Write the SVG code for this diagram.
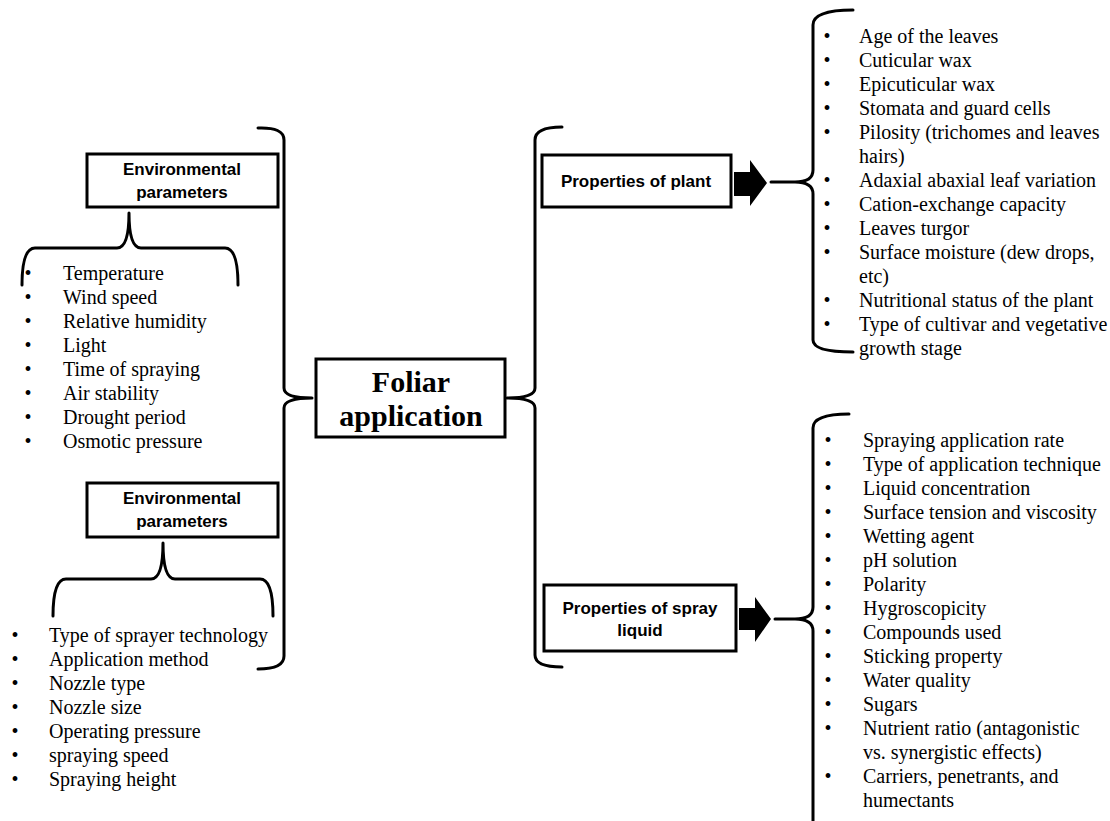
<svg xmlns="http://www.w3.org/2000/svg" width="1110" height="821" viewBox="0 0 1110 821">
<style>
.box{fill:#fff;stroke:#000;stroke-width:3}
.br{fill:none;stroke:#000;stroke-width:3;stroke-linejoin:round;stroke-linecap:round}
.hd{font-family:"Liberation Sans",Arial,sans-serif;font-weight:bold;font-size:17px;text-anchor:middle;fill:#000}
.main{font-family:"Liberation Serif","Times New Roman",serif;font-weight:bold;font-size:30px;text-anchor:middle;fill:#000}
.li{font-family:"Liberation Serif","Times New Roman",serif;font-size:20px;fill:#000}
.bu{font-family:"Liberation Serif","Times New Roman",serif;font-size:20px;text-anchor:middle;fill:#000}
</style>
<rect width="1110" height="821" fill="#fff"/>
<g id="connectors">
<path class="br" d="M258,128 Q284,127 284,140 L284,388 Q284,398 312,398 Q284,398 284,408 L284,656 Q284,669 258,669"/>
<path class="br" d="M562,127 Q535,127 535,140 L535,388 Q535,398 507,398 Q535,398 535,408 L535,655 Q535,667 562,667"/>
<path class="br" d="M22,285 Q22,248 35,248 L117,248 Q129,248 129,213 Q129,248 141,248 L225,248 Q238,248 238,285"/>
<path class="br" d="M53,616 Q53,579 66,579 L151,579 Q163,579 163,543 Q163,579 175,579 L260,579 Q273,579 273,616"/>
<path class="br" d="M853,10 Q813,10 813,25 L813,170 Q813,182 795,182 L771,182 M795,182 Q813,182 813,194 L813,340 Q813,352 853,352"/>
<path class="br" d="M849,414 Q813,414 813,428 L813,607 Q813,619 795,619 L775,619 M795,619 Q813,619 813,631 L813,824"/>
<polygon points="734,172 750,172 750,160 767,183 750,206 750,196 734,196" fill="#000"/>
<polygon points="739,608 755,608 755,597 771,619 755,642 755,630 739,630" fill="#000"/>
</g>
<g id="foliar">
<rect class="box" x="316" y="359" width="189" height="78"/>
<text class="main" x="411" y="392">Foliar</text>
<text class="main" x="411" y="426">application</text>
</g>
<g id="env1">
<rect class="box" x="87" y="154" width="191" height="53"/>
<text class="hd" x="182" y="175">Environmental</text>
<text class="hd" x="182" y="198">parameters</text>
</g>
<g id="env2">
<rect class="box" x="87" y="483" width="191" height="54"/>
<text class="hd" x="182" y="504">Environmental</text>
<text class="hd" x="182" y="527">parameters</text>
</g>
<g id="plant">
<rect class="box" x="542" y="155" width="189" height="52"/>
<text class="hd" x="636" y="187">Properties of plant</text>
</g>
<g id="spray">
<rect class="box" x="544" y="585" width="192" height="66"/>
<text class="hd" x="640" y="614">Properties of spray</text>
<text class="hd" x="640" y="636">liquid</text>
</g>
<g id="list-env1">
<text class="bu" x="28" y="280">•</text><text class="li" x="63" y="280">Temperature</text>
<text class="bu" x="28" y="304">•</text><text class="li" x="63" y="304">Wind speed</text>
<text class="bu" x="28" y="328">•</text><text class="li" x="63" y="328">Relative humidity</text>
<text class="bu" x="28" y="352">•</text><text class="li" x="63" y="352">Light</text>
<text class="bu" x="28" y="376">•</text><text class="li" x="63" y="376">Time of spraying</text>
<text class="bu" x="28" y="400">•</text><text class="li" x="63" y="400">Air stability</text>
<text class="bu" x="28" y="424">•</text><text class="li" x="63" y="424">Drought period</text>
<text class="bu" x="28" y="448">•</text><text class="li" x="63" y="448">Osmotic pressure</text>
</g>
<g id="list-env2">
<text class="bu" x="15" y="642">•</text><text class="li" x="49" y="642">Type of sprayer technology</text>
<text class="bu" x="15" y="666">•</text><text class="li" x="49" y="666">Application method</text>
<text class="bu" x="15" y="690">•</text><text class="li" x="49" y="690">Nozzle type</text>
<text class="bu" x="15" y="714">•</text><text class="li" x="49" y="714">Nozzle size</text>
<text class="bu" x="15" y="738">•</text><text class="li" x="49" y="738">Operating pressure</text>
<text class="bu" x="15" y="762">•</text><text class="li" x="49" y="762">spraying speed</text>
<text class="bu" x="15" y="786">•</text><text class="li" x="49" y="786">Spraying height</text>
</g>
<g id="list-plant">
<text class="bu" x="827" y="43">•</text><text class="li" x="859" y="43">Age of the leaves</text>
<text class="bu" x="827" y="67">•</text><text class="li" x="859" y="67">Cuticular wax</text>
<text class="bu" x="827" y="91">•</text><text class="li" x="859" y="91">Epicuticular wax</text>
<text class="bu" x="827" y="115">•</text><text class="li" x="859" y="115">Stomata and guard cells</text>
<text class="bu" x="827" y="139">•</text><text class="li" x="859" y="139">Pilosity (trichomes and leaves</text>
<text class="li" x="859" y="163">hairs)</text>
<text class="bu" x="827" y="187">•</text><text class="li" x="859" y="187">Adaxial abaxial leaf variation</text>
<text class="bu" x="827" y="211">•</text><text class="li" x="859" y="211">Cation-exchange capacity</text>
<text class="bu" x="827" y="235">•</text><text class="li" x="859" y="235">Leaves turgor</text>
<text class="bu" x="827" y="259">•</text><text class="li" x="859" y="259">Surface moisture (dew drops,</text>
<text class="li" x="859" y="283">etc)</text>
<text class="bu" x="827" y="307">•</text><text class="li" x="859" y="307">Nutritional status of the plant</text>
<text class="bu" x="827" y="331">•</text><text class="li" x="859" y="331">Type of cultivar and vegetative</text>
<text class="li" x="859" y="355">growth stage</text>
</g>
<g id="list-spray">
<text class="bu" x="828" y="447">•</text><text class="li" x="863" y="447">Spraying application rate</text>
<text class="bu" x="828" y="471">•</text><text class="li" x="863" y="471">Type of application technique</text>
<text class="bu" x="828" y="495">•</text><text class="li" x="863" y="495">Liquid concentration</text>
<text class="bu" x="828" y="519">•</text><text class="li" x="863" y="519">Surface tension and viscosity</text>
<text class="bu" x="828" y="543">•</text><text class="li" x="863" y="543">Wetting agent</text>
<text class="bu" x="828" y="567">•</text><text class="li" x="863" y="567">pH solution</text>
<text class="bu" x="828" y="591">•</text><text class="li" x="863" y="591">Polarity</text>
<text class="bu" x="828" y="615">•</text><text class="li" x="863" y="615">Hygroscopicity</text>
<text class="bu" x="828" y="639">•</text><text class="li" x="863" y="639">Compounds used</text>
<text class="bu" x="828" y="663">•</text><text class="li" x="863" y="663">Sticking property</text>
<text class="bu" x="828" y="687">•</text><text class="li" x="863" y="687">Water quality</text>
<text class="bu" x="828" y="711">•</text><text class="li" x="863" y="711">Sugars</text>
<text class="bu" x="828" y="735">•</text><text class="li" x="863" y="735">Nutrient ratio (antagonistic</text>
<text class="li" x="863" y="759">vs. synergistic effects)</text>
<text class="bu" x="828" y="783">•</text><text class="li" x="863" y="783">Carriers, penetrants, and</text>
<text class="li" x="863" y="807">humectants</text>
</g>
</svg>
